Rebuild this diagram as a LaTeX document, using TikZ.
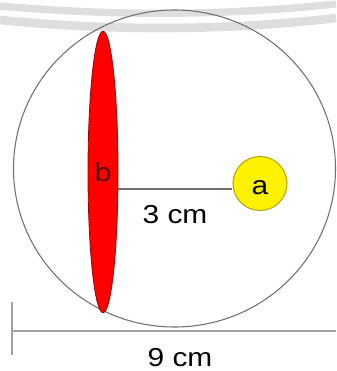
\documentclass[tikz,border=0pt]{standalone}
\usepackage{fontspec}
\setmainfont{Liberation Sans}[FakeStretch=1.15]
\usetikzlibrary{shapes.geometric,positioning,calc}
\definecolor{outline}{RGB}{112,112,112}
\definecolor{dimline}{RGB}{160,160,160}
\definecolor{band}{RGB}{222,222,222}
\definecolor{darkred}{RGB}{150,0,0}
\definecolor{maroon}{RGB}{85,10,10}
\definecolor{goldline}{RGB}{185,165,0}

\begin{document}
\begin{tikzpicture}[x=0.75pt, y=-0.75pt, font=\fontsize{19.5}{22}\selectfont,
    thinline/.style={draw=outline, line width=0.8pt}]
    \useasboundingbox (0,0) rectangle (336,371);
    % background bands
    \draw[band, line width=5.5pt] (0,6) .. controls (112,16) and (224,16) .. (336,4);
    \draw[band, line width=6.5pt] (0,20) .. controls (112,31) and (224,31) .. (336,18);
    % outer circle
    \draw[thinline] (174.5,168.5) ellipse (161 and 158.5);
    % disc b and sphere a
    \node[ellipse, draw=darkred, fill=red, text=maroon, line width=0.6pt, inner sep=0pt,
      minimum width=22.5pt, minimum height=211pt] (b) at (103,172) {b};
    \node[circle, draw=goldline, fill=yellow, line width=0.8pt, inner sep=0pt,
      minimum size=40.5pt, text height=17pt, text depth=0pt] (a) at (260,183.5) {a};
    \coordinate (l) at ($(b.east)+(0,17)$);
    \draw[thinline] (l) -- (a.west |- l);
    \node (r) at (175,215) {3 cm};
    % width of the sphere
    \coordinate (d0) at (12,331);
    \coordinate (d1) at (336,331);
    \draw[dimline, line width=1.2pt] (d0) -- (d1);
    \draw[dimline, line width=1.2pt] (12,302) -- (12,355);
    \node (w) at (180,358) {9 cm};
\end{tikzpicture}
\end{document}
